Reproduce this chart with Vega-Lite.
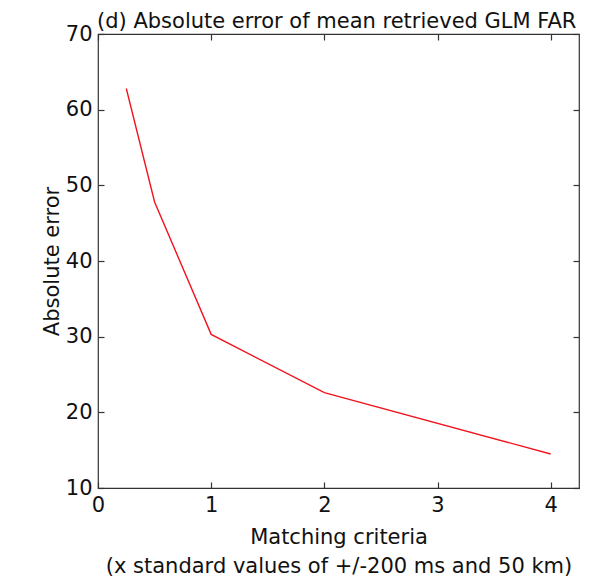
{
  "$schema": "https://vega.github.io/schema/vega-lite/v6.json",
  "autosize": "none",
  "width": 481,
  "height": 454,
  "padding": {"left": 98, "top": 34, "right": 34, "bottom": 90},
  "background": "white",
  "config": {
    "font": "DejaVu Sans",
    "view": {"stroke": "#333", "strokeWidth": 1.2},
    "axis": {"grid": false, "domain": false, "tickColor": "#333", "labelColor": "#111", "titleColor": "#111", "labelFont": "DejaVu Sans", "titleFont": "DejaVu Sans", "labelFontSize": 21, "titleFontSize": 21, "titleFontWeight": "normal", "tickSize": -6, "tickWidth": 1.2, "labelFlush": false}
  },
  "title": {"text": "(d) Absolute error of mean retrieved GLM FAR", "anchor": "start", "frame": "group", "fontSize": 21, "fontWeight": "normal", "font": "DejaVu Sans", "color": "#111", "offset": 0, "dx": -1, "dy": 9},
  "data": {"values": [
    {"x": 0.25, "y": 62.8},
    {"x": 0.5, "y": 47.8},
    {"x": 1, "y": 30.3},
    {"x": 2, "y": 22.6},
    {"x": 4, "y": 14.5}
  ]},
  "layer": [
    {
      "mark": {"type": "line", "color": "#f0141e", "strokeWidth": 1.4},
      "encoding": {
        "x": {"field": "x", "type": "quantitative", "scale": {"domain": [0, 4.25], "nice": false}, "axis": {"orient": "bottom", "values": [0, 1, 2, 3, 4], "title": ["Matching criteria", "(x standard values of +/-200 ms and 50 km)"], "labelPadding": 12, "titlePadding": 11, "titleLineHeight": 29}},
        "y": {"field": "y", "type": "quantitative", "scale": {"domain": [10, 70], "nice": false}, "axis": {"orient": "left", "values": [10, 20, 30, 40, 50, 60, 70], "title": "Absolute error", "labelPadding": 12, "titlePadding": 3}}
      }
    },
    {
      "mark": {"type": "line", "opacity": 0},
      "encoding": {
        "x": {"field": "x", "type": "quantitative", "scale": {"domain": [0, 4.25], "nice": false}, "axis": {"orient": "top", "values": [0, 1, 2, 3, 4], "labels": false, "title": null}},
        "y": {"field": "y", "type": "quantitative", "scale": {"domain": [10, 70], "nice": false}, "axis": {"orient": "right", "values": [10, 20, 30, 40, 50, 60, 70], "labels": false, "title": null}}
      }
    }
  ],
  "resolve": {"axis": {"x": "independent", "y": "independent"}}
}
